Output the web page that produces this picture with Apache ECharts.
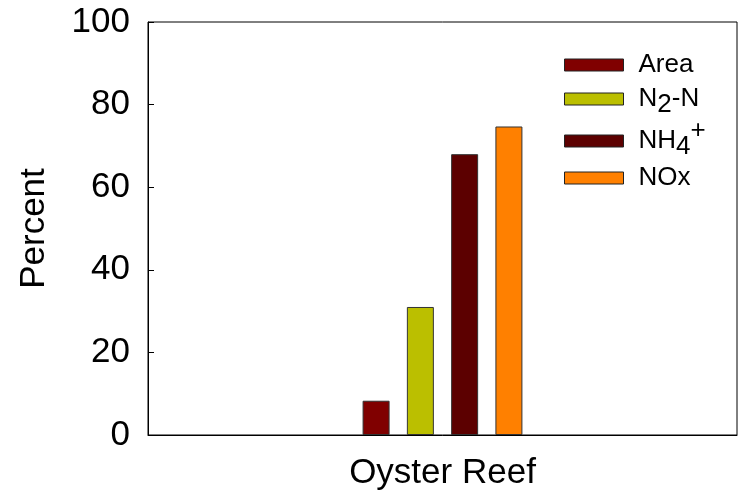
<!DOCTYPE html>
<html>
<head>
<meta charset="utf-8">
<script src="https://cdn.jsdelivr.net/npm/echarts@6/dist/echarts.min.js"></script>
<style>
html,body{margin:0;padding:0;background:#fff;}
#main{width:743px;height:493px;}
</style>
</head>
<body>
<div id="main"></div>
<script>
var categories = ['Oyster Reef'];
var seriesNames = ['Area', 'N2-N', 'NH4+', 'NOx'];
var areaValues = [8.3];
var n2Values = [31];
var nh4Values = [68];
var noxValues = [74.7];
var yTicks = [0, 20, 40, 60, 80, 100];

var colors = ['#800000', '#bbbf00', '#5c0000', '#ff8000'];
var FONT = '"Liberation Sans", Arial, sans-serif';

var legendFormat = {
  'Area': '{n|Area}',
  'N2-N': '{n|N}{sub|2}{n|-N}',
  'NH4+': '{n|NH}{sub|4}{sup|+}',
  'NOx': '{n|NOx}'
};
var rich = {
  n: {fontSize: 26, fontFamily: FONT, color: '#000', lineHeight: 30},
  sub: {fontSize: 26, fontFamily: FONT, color: '#000', lineHeight: 30, padding: [12, 0, 0, 0]},
  sup: {fontSize: 26, fontFamily: FONT, color: '#000', lineHeight: 30, padding: [0, 0, 20, 0]}
};
var legendTops = [52, 80, 118, 165];

var chart = echarts.init(document.getElementById('main'), null, {renderer: 'canvas'});
var dataArrays = [areaValues, n2Values, nh4Values, noxValues];

var legends = seriesNames.map(function (name, i) {
  return {
    data: [name],
    left: 564,
    top: legendTops[i],
    padding: 0,
    orient: 'vertical',
    itemWidth: 59,
    itemHeight: 12,
    selectedMode: false,
    icon: 'rect',
    itemStyle: {borderColor: '#222', borderWidth: 1},
    formatter: function (n) { return legendFormat[n]; },
    textStyle: {rich: rich, padding: [0, 0, 0, 10]}
  };
});

var series = seriesNames.map(function (name, i) {
  return {
    name: name,
    type: 'bar',
    data: dataArrays[i],
    barWidth: 27,
    barGap: '64%',
    itemStyle: {color: colors[i], borderColor: '#333', borderWidth: 1},
    animation: false
  };
});

chart.setOption({
  animation: false,
  color: colors,
  grid: {left: 148, right: 6, top: 22, bottom: 58, show: true, borderColor: '#000', borderWidth: 1, backgroundColor: 'transparent'},
  legend: legends,
  xAxis: {
    type: 'category',
    data: categories,
    axisLine: {lineStyle: {color: '#000', width: 1}},
    axisTick: {show: false},
    axisLabel: {fontSize: 35, fontFamily: FONT, color: '#000', margin: 21}
  },
  yAxis: {
    type: 'value',
    min: yTicks[0],
    max: yTicks[yTicks.length - 1],
    interval: yTicks[1] - yTicks[0],
    name: 'Percent',
    nameLocation: 'middle',
    nameGap: 96,
    nameTextStyle: {fontSize: 35, fontFamily: FONT, color: '#000'},
    axisLine: {show: true, lineStyle: {color: '#000', width: 1}},
    axisTick: {show: true, inside: true, length: 6, lineStyle: {color: '#000'}},
    splitLine: {show: false},
    axisLabel: {fontSize: 35, fontFamily: FONT, color: '#000', margin: 18}
  },
  series: series
});
</script>
</body>
</html>
